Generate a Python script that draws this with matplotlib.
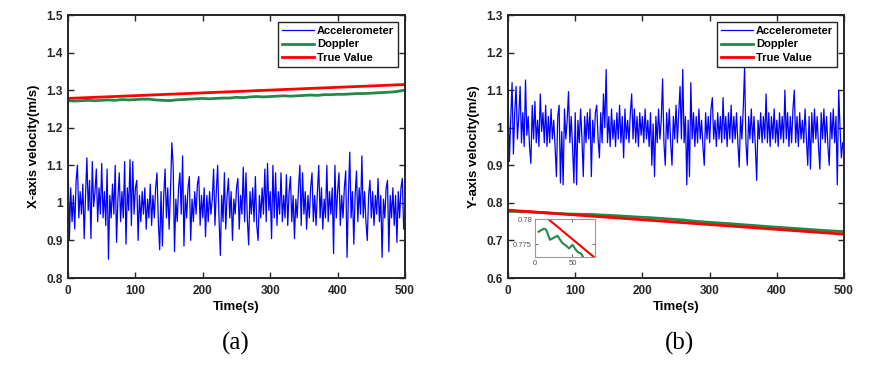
import numpy as np
import matplotlib
matplotlib.use('Agg')
import matplotlib.pyplot as plt
from matplotlib.ticker import FuncFormatter

plt.rcParams['font.family'] = ['Liberation Sans', 'DejaVu Sans']
plt.rcParams['font.weight'] = 'bold'

# accelerometer samples, every 2 s from 0 to 500 s
t_acc = np.arange(0, 501, 2)

acc_x = [
    1.13, 0.90, 1.04, 0.95, 1.02, 0.93, 1.06, 1.10, 0.96, 1.03,
    0.97, 1.05, 0.905, 1.02, 1.12, 0.98, 1.06, 0.905, 1.11, 0.99,
    1.03, 1.09, 0.95, 1.04, 0.97, 1.105, 0.96, 1.03, 0.94, 1.09,
    0.85, 1.02, 0.96, 1.05, 0.97, 1.10, 0.895, 1.01, 1.08, 0.95,
    1.03, 0.96, 1.11, 0.89, 1.04, 0.98, 1.115, 0.94, 1.11, 0.97,
    1.04, 1.06, 0.90, 1.02, 0.95, 1.03, 0.97, 1.04, 0.93, 1.01,
    0.96, 1.05, 0.94, 1.02, 0.96, 1.04, 1.08, 0.95, 0.875, 1.03,
    0.885, 1.02, 1.09, 0.96, 1.04, 0.93, 1.03, 1.16, 1.10, 0.87,
    1.01, 0.95, 1.04, 1.08, 0.97, 1.125, 0.885, 1.02, 0.96, 1.04,
    1.07, 0.90, 1.01, 0.95, 1.03, 0.97, 1.05, 1.07, 0.94, 1.02,
    0.96, 1.04, 0.91, 1.02, 0.95, 1.03, 0.97, 1.01, 1.09, 0.94,
    1.03, 1.10, 0.96, 0.86, 1.02, 0.95, 1.08, 0.93, 1.02, 1.065,
    0.96, 1.03, 0.90, 1.01, 0.97, 1.04, 1.065, 0.93, 1.02, 0.97,
    1.095, 0.95, 1.08, 0.96, 0.888, 1.03, 0.97, 1.04, 0.95, 1.07,
    0.94, 0.90, 1.02, 0.96, 1.04, 0.97, 1.09, 0.95, 1.105, 0.98,
    1.03, 0.905, 1.10, 0.96, 1.08, 0.94, 1.03, 0.97, 1.08, 0.95,
    1.02, 0.96, 1.075, 0.94, 1.03, 1.07, 0.95, 1.02, 0.905, 1.01,
    0.96, 1.04, 1.10, 0.94, 1.08, 0.97, 1.03, 0.93, 1.02, 0.96,
    1.04, 1.08, 0.95, 1.02, 0.94, 1.03, 1.10, 0.96, 1.04, 0.93,
    1.01, 0.96, 1.10, 0.95, 1.03, 0.97, 1.04, 0.865, 1.10, 0.96,
    1.03, 1.08, 0.94, 1.02, 0.96, 1.04, 1.085, 0.855, 1.02, 1.135,
    0.96, 1.03, 0.89, 1.02, 1.085, 0.95, 1.04, 0.97, 1.125, 0.96,
    1.03, 0.95, 0.90, 1.02, 1.06, 0.96, 1.03, 0.94, 1.02, 0.97,
    1.065, 0.95, 1.02, 0.855, 1.01, 0.96, 1.04, 1.06, 0.87, 1.02,
    0.96, 1.04, 0.94, 1.02, 0.895, 1.03, 0.96, 1.04, 1.065, 0.93,
    0.95,
]

acc_y = [
    1.10, 0.91, 1.02, 1.12, 0.93, 1.04, 1.11, 0.97, 1.03, 1.11,
    0.96, 1.04, 0.95, 1.127, 0.98, 1.03, 0.95, 0.905, 1.06, 0.97,
    1.07, 0.96, 1.02, 0.95, 1.09, 0.99, 1.04, 0.96, 1.06, 0.95,
    1.03, 0.96, 1.05, 0.97, 1.02, 0.95, 0.87, 1.03, 1.06, 0.853,
    0.99, 0.848, 1.05, 0.97, 1.02, 1.096, 0.96, 1.03, 0.95, 0.853,
    1.04, 0.848, 1.02, 0.96, 1.05, 0.97, 0.87, 1.03, 0.96, 1.04,
    0.97, 1.05, 0.87, 1.02, 0.96, 1.04, 1.06, 0.97, 0.92, 1.04,
    0.96, 1.09, 1.00, 1.155, 0.96, 1.03, 0.95, 1.05, 0.97, 1.02,
    0.95, 1.04, 0.97, 1.06, 0.96, 1.03, 0.92, 1.05, 0.97, 1.02,
    0.96, 1.04, 1.09, 0.97, 1.05, 0.96, 1.03, 0.95, 1.04, 0.98,
    1.03, 0.96, 1.05, 0.97, 1.02, 0.95, 1.04, 0.90, 1.01, 0.87,
    1.03, 0.96, 1.05, 0.97, 1.02, 1.13, 0.96, 0.90, 1.04, 0.97,
    1.05, 0.96, 0.90, 1.03, 0.97, 1.06, 0.96, 1.04, 1.11, 0.97,
    1.155, 0.96, 1.03, 0.848, 1.02, 0.87, 1.12, 0.97, 1.04, 0.95,
    1.03, 0.96, 1.05, 0.97, 1.02, 0.95, 0.90, 1.04, 0.97, 1.03,
    0.96, 1.05, 1.08, 0.97, 1.02, 0.95, 1.04, 0.97, 1.03, 0.96,
    1.08, 0.97, 1.03, 0.95, 1.04, 0.97, 1.06, 0.96, 1.03, 0.97,
    1.04, 0.96, 0.895, 1.03, 0.97, 1.05, 1.16, 0.96, 0.90, 1.03,
    0.97, 1.05, 0.96, 1.03, 0.95, 0.86, 1.02, 0.97, 1.04, 0.96,
    1.03, 0.97, 1.09, 0.96, 1.04, 0.95, 1.03, 0.97, 1.05, 0.96,
    1.02, 0.95, 1.04, 0.97, 1.03, 0.96, 1.10, 0.97, 1.04, 0.95,
    1.03, 0.96, 1.05, 1.10, 0.96, 1.03, 0.95, 1.04, 0.97, 1.02,
    0.96, 1.05, 0.97, 0.90, 1.03, 0.89, 1.04, 0.96, 1.05, 0.97,
    1.03, 0.95, 0.89, 1.04, 0.97, 1.05, 0.96, 1.03, 0.95, 0.90,
    1.04, 0.97, 1.05, 0.96, 1.03, 0.848, 1.10, 1.00, 0.92, 0.96,
    0.95,
]

# doppler samples, every 10 s
t_dop = np.arange(0, 501, 10)

dop_x = [
    1.272, 1.271, 1.272, 1.273, 1.272, 1.273, 1.274, 1.273, 1.275, 1.274,
    1.275, 1.276, 1.276, 1.274, 1.273, 1.272, 1.274, 1.275, 1.276, 1.277,
    1.278, 1.277, 1.278, 1.279, 1.279, 1.281, 1.280, 1.282, 1.283, 1.282,
    1.283, 1.284, 1.285, 1.284, 1.285, 1.286, 1.287, 1.286, 1.288, 1.288,
    1.289, 1.289, 1.290, 1.291, 1.291, 1.292, 1.293, 1.294, 1.295, 1.297,
    1.300,
]

dop_y = [
    0.7772, 0.7775, 0.7762, 0.7765, 0.7750, 0.7746, 0.7732, 0.7718, 0.7712, 0.7705,
    0.7700, 0.7695, 0.7692, 0.7688, 0.7676, 0.7668, 0.7660, 0.7648, 0.7637, 0.7626,
    0.7616, 0.7608, 0.7596, 0.7584, 0.7570, 0.7558, 0.7545, 0.7527, 0.7510, 0.7496,
    0.7482, 0.7470, 0.7458, 0.7447, 0.7432, 0.7418, 0.7405, 0.7392, 0.7378, 0.7364,
    0.7352, 0.7340, 0.7328, 0.7315, 0.7302, 0.7290, 0.7278, 0.7266, 0.7255, 0.7245,
    0.7237,
]

# true value (straight lines)
t_true = [0, 500]
true_x = [1.278, 1.315]
true_y = [0.7807, 0.7167]

# zoomed inset of (b)
inset_t = [5, 8, 12, 15, 20, 25, 30, 34, 37, 41, 45.5, 50, 54, 57, 62, 66]
inset_dop = [0.7775, 0.7778, 0.7781, 0.7779, 0.7759, 0.7763, 0.7767, 0.7758,
             0.7752, 0.7748, 0.7742, 0.7749, 0.7740, 0.7735, 0.7731, 0.7718]
inset_true_t = [0, 80]
inset_true = [0.7822, 0.7723]

blue = '#0000ff'
green = '#23884a'
red = '#ff0000'

fig = plt.figure(figsize=(8.88, 3.7), dpi=100)
ax1 = fig.add_axes([0.0766, 0.2486, 0.3795, 0.7108])
ax2 = fig.add_axes([0.5721, 0.2486, 0.3784, 0.7108])

fmt = FuncFormatter(lambda v, p: f'{v:g}')


def style(ax, ylim, yticks, ylabel):
    ax.set_xlim(0, 500)
    ax.set_ylim(*ylim)
    ax.set_xticks(range(0, 501, 100))
    ax.set_yticks(yticks)
    ax.yaxis.set_major_formatter(fmt)
    ax.tick_params(direction='in', top=True, right=True, length=4, width=1,
                   labelsize=8.5, colors='#262626')
    ax.tick_params(axis='x', pad=5)
    ax.tick_params(axis='y', pad=4)
    for s in ax.spines.values():
        s.set_linewidth(1.4)
        s.set_color('#262626')
    ax.set_xlabel('Time(s)', fontsize=9.5, fontweight='bold', labelpad=3)
    ax.set_ylabel(ylabel, fontsize=9.5, fontweight='bold', labelpad=4)
    leg = ax.legend(loc='upper right', prop=dict(weight='bold', size=8),
                    fancybox=False, edgecolor='#262626', framealpha=1,
                    borderaxespad=0.65, handlelength=2.9, labelspacing=0.3,
                    borderpad=0.35, handletextpad=0.25)
    leg.get_frame().set_linewidth(1.0)


ax1.plot(t_acc, acc_x, color=blue, lw=0.9, label='Accelerometer')
ax1.plot(t_dop, dop_x, color=green, lw=2, label='Doppler')
ax1.plot(t_true, true_x, color=red, lw=2, label='True Value')
style(ax1, (0.8, 1.5), np.arange(0.8, 1.51, 0.1), 'X-axis velocity(m/s)')

ax2.plot(t_acc, acc_y, color=blue, lw=0.9, label='Accelerometer')
ax2.plot(t_dop, dop_y, color=green, lw=2, label='Doppler')
ax2.plot(t_true, true_y, color=red, lw=2, label='True Value')
style(ax2, (0.6, 1.3), np.arange(0.6, 1.31, 0.1), 'Y-axis velocity(m/s)')

# inset
ins = ax2.inset_axes([0.080, 0.080, 0.179, 0.144])
ins.plot(inset_t, inset_dop, color=green, lw=1.5)
ins.plot(inset_true_t, inset_true, color=red, lw=1.5)
ins.set_xlim(0, 80)
ins.set_ylim(0.7725, 0.780)
ins.set_xticks([0, 50])
ins.set_yticks([0.775, 0.78])
ins.yaxis.set_major_formatter(fmt)
ins.tick_params(direction='in', top=True, right=True, length=2, width=0.6,
                labelsize=5.5, pad=2, colors='#555555')
for lbl in ins.get_xticklabels() + ins.get_yticklabels():
    lbl.set_fontweight('normal')
for s in ins.spines.values():
    s.set_linewidth(0.8)
    s.set_color('#999999')

fig.text(0.266, 0.073, '(a)', family='Liberation Serif', fontweight='normal',
         fontsize=18, ha='center', va='center')
fig.text(0.765, 0.073, '(b)', family='Liberation Serif', fontweight='normal',
         fontsize=18, ha='center', va='center')

fig.savefig('out.png', dpi=100)
